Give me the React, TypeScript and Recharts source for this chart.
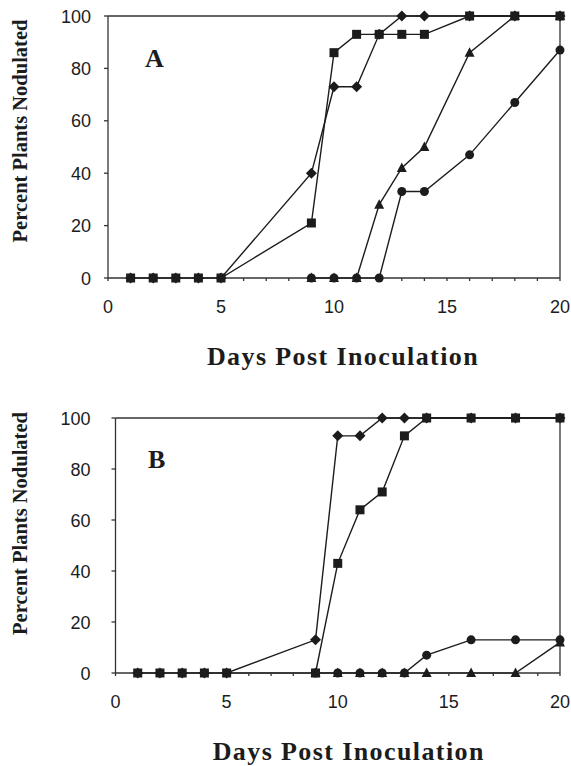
import React from 'react'
import { LineChart, Line, XAxis, YAxis, ReferenceLine } from 'recharts'

// days on the x axis, minor tick every day, labels every 5
const dayTicks = [0, 1, 2, 3, 4, 5, 6, 7, 8, 9, 10, 11, 12, 13, 14, 15, 16, 17, 18, 19, 20]
const percentTicks = [0, 20, 40, 60, 80, 100]

// panel A
const earlyDaysA = [1, 2, 3, 4, 5, 9, 10, 11, 12, 13, 14, 16, 18, 20]
const lateDaysA = [9, 10, 11, 12, 13, 14, 16, 18, 20]
const diamondA = [0, 0, 0, 0, 0, 40, 73, 73, 93, 100, 100, 100, 100, 100]
const squareA = [0, 0, 0, 0, 0, 21, 86, 93, 93, 93, 93, 100, 100, 100]
const triangleA = [0, 0, 0, 28, 42, 50, 86, 100, 100]
const circleA = [0, 0, 0, 0, 33, 33, 47, 67, 87]

// panel B
const earlyDaysB = [1, 2, 3, 4, 5, 9, 10, 11, 12, 13, 14, 16, 18, 20]
const lateDaysB = [9, 10, 11, 12, 13, 14, 16, 18, 20]
const diamondB = [0, 0, 0, 0, 0, 13, 93, 93, 100, 100, 100, 100, 100, 100]
const squareB = [0, 0, 0, 0, 0, 0, 43, 64, 71, 93, 100, 100, 100, 100]
const circleB = [0, 0, 0, 0, 0, 7, 13, 13, 13]
const triangleB = [0, 0, 0, 0, 0, 0, 0, 0, 12]

const ink = '#1c1c1c'
const sans = '"Liberation Sans", Arial, sans-serif'
const serif = '"Liberation Serif", "Times New Roman", serif'

const toPoints = (days: number[], values: number[]) =>
  days.map((day, i) => ({ day, pct: values[i] }))

function Marker(props: any) {
  const { cx, cy, shape, index } = props
  if (cx == null || cy == null) return <g key={index} />
  if (shape === 'diamond') {
    return <polygon key={index} points={`${cx},${cy - 5.5} ${cx + 5.5},${cy} ${cx},${cy + 5.5} ${cx - 5.5},${cy}`} fill={ink} />
  }
  if (shape === 'square') {
    return <rect key={index} x={cx - 4.5} y={cy - 4.5} width={9} height={9} fill={ink} />
  }
  if (shape === 'triangle') {
    return <polygon key={index} points={`${cx},${cy - 5.5} ${cx + 5},${cy + 4} ${cx - 5},${cy + 4}`} fill={ink} />
  }
  return <circle key={index} cx={cx} cy={cy} r={4.5} fill={ink} />
}

function DayTick(props: any) {
  const { x, y, payload } = props
  if (payload.value % 5 !== 0) return <g />
  return (
    <text x={x} y={y + 30} textAnchor="middle" fontFamily={sans} fontSize={18} fill={ink}>
      {payload.value}
    </text>
  )
}

function PercentTick(props: any) {
  const { x, y, payload } = props
  return (
    <text x={x} y={y + 6.5} textAnchor="end" fontFamily={sans} fontSize={18} fill={ink}>
      {payload.value}
    </text>
  )
}

type Series = { shape: string; points: { day: number; pct: number }[] }

function Panel(props: {
  series: Series[]
  height: number
  top: number
  axisWidth: number
  xAxisHeight: number
  tickGap: number
  titleShiftX: number
  titleShiftY: number
}) {
  const { series, height, top, axisWidth, xAxisHeight, tickGap, titleShiftX, titleShiftY } = props
  return (
    <LineChart width={571} height={height} margin={{ top, right: 11, bottom: 0, left: 0 }} style={{ overflow: 'visible' }}>
      <XAxis
        dataKey="day"
        type="number"
        domain={[0, 20]}
        ticks={dayTicks}
        interval={0}
        allowDuplicatedCategory={false}
        height={xAxisHeight}
        tickSize={3}
        stroke="#333"
        strokeWidth={1.3}
        tick={<DayTick />}
        label={(p: any) => {
          const vb = p.viewBox
          return (
            <text x={vb.x + vb.width / 2 + titleShiftX} y={vb.y + 87} textAnchor="middle"
              fontFamily={serif} fontWeight="bold" fontSize={26} letterSpacing={1.4} fill={ink}>
              Days Post Inoculation
            </text>
          )
        }}
      />
      <YAxis
        type="number"
        domain={[0, 100]}
        ticks={percentTicks}
        width={axisWidth}
        tickSize={4}
        tickMargin={tickGap}
        stroke="#333"
        strokeWidth={1.3}
        tick={<PercentTick />}
        label={(p: any) => {
          const vb = p.viewBox
          const cy = vb.y + vb.height / 2 + titleShiftY
          return (
            <text x={27} y={cy} transform={`rotate(-90, 27, ${cy})`} textAnchor="middle"
              fontFamily={serif} fontWeight="bold" fontSize={20.5} fill={ink}>
              Percent Plants Nodulated
            </text>
          )
        }}
      />
      <ReferenceLine y={100} stroke="#333" strokeWidth={1.3} />
      <ReferenceLine x={20} stroke="#333" strokeWidth={1.3} />
      {series.map((s) => (
        <Line
          key={s.shape}
          data={s.points}
          dataKey="pct"
          type="linear"
          stroke={ink}
          strokeWidth={1.4}
          dot={(d: any) => <Marker key={d.index} {...d} shape={s.shape} />}
          activeDot={false}
          isAnimationActive={false}
        />
      ))}
    </LineChart>
  )
}

const letterStyle: React.CSSProperties = {
  position: 'absolute',
  fontFamily: serif,
  fontWeight: 'bold',
  fontSize: 26,
  lineHeight: '26px',
  color: ink,
}

export default function App() {
  const seriesA: Series[] = [
    { shape: 'circle', points: toPoints(lateDaysA, circleA) },
    { shape: 'triangle', points: toPoints(lateDaysA, triangleA) },
    { shape: 'diamond', points: toPoints(earlyDaysA, diamondA) },
    { shape: 'square', points: toPoints(earlyDaysA, squareA) },
  ]
  const seriesB: Series[] = [
    { shape: 'circle', points: toPoints(lateDaysB, circleB) },
    { shape: 'triangle', points: toPoints(lateDaysB, triangleB) },
    { shape: 'diamond', points: toPoints(earlyDaysB, diamondB) },
    { shape: 'square', points: toPoints(earlyDaysB, squareB) },
  ]
  return (
    <div style={{ position: 'absolute', left: 0, top: 0, width: 571, height: 766, overflow: 'hidden', background: '#fff' }}>
      <div style={{ position: 'absolute', left: 0, top: 0 }}>
        <Panel series={seriesA} height={380} top={16} axisWidth={108} xAxisHeight={102}
          tickGap={13} titleShiftX={9} titleShiftY={-16} />
      </div>
      <div style={{ position: 'absolute', left: 0, top: 390 }}>
        <Panel series={seriesB} height={376} top={28} axisWidth={115.5} xAxisHeight={93}
          tickGap={21} titleShiftX={11} titleShiftY={-22} />
      </div>
      <div style={{ ...letterStyle, left: 145, top: 46 }}>A</div>
      <div style={{ ...letterStyle, left: 148, top: 447 }}>B</div>
    </div>
  )
}
